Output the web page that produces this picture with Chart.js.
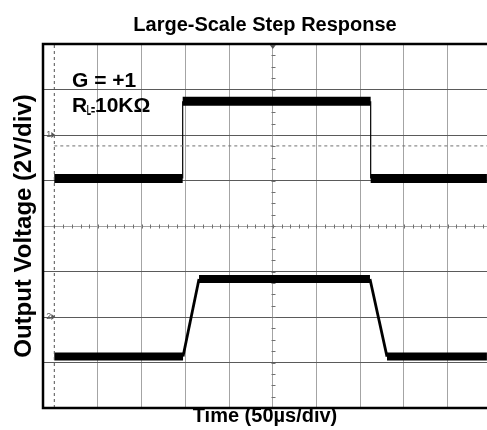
<!DOCTYPE html>
<html><head><meta charset="utf-8">
<script src="https://cdn.jsdelivr.net/npm/chart.js@4/dist/chart.umd.min.js"></script>
<style>html,body{margin:0;padding:0;background:#fff}#wrap{width:487px;height:430px}</style>
</head><body><div id="wrap"><canvas id="c" width="487" height="430"></canvas></div>
<script>
// ---- data (time in µs, screen voltage at 2 V/div, 0 V = screen centre) ----
const xGridTicks = [0, 50, 100, 150, 200, 250, 300, 350, 400, 450];
const yGridTicks = [-8, -6, -4, -2, 0, 2, 4, 6, 8];
const ch1Time  = [0, 146.9, 146.9, 362.0, 362.0, 495];
const ch1Volts = [2.09, 2.09, 5.48, 5.48, 2.09, 2.09];
const ch2Time  = [0, 147.3, 165.6, 361.2, 380.7, 495];
const ch2Volts = [-5.74, -5.74, -2.33, -2.33, -5.74, -5.74];
const cursorTime  = [0, 0];
const cursorVolts = [-8, 8];
const refTime  = [0, 495];
const refVolts = [3.52, 3.52];
const channelLabels = ['1', '2'];
const channelGround = [4, -4];
const triggerTime = 250;
const titleText = 'Large-Scale Step Response';
const xTitle = 'Time (50µs/div)';
const yTitle = 'Output Voltage (2V/div)';
const noteGain = 'G = +1';
const noteLoad = ['R', 'L=', '10KΩ'];

const FONT = "'Liberation Sans', Arial, sans-serif";
const toXY = (xs, ys) => xs.map((t, i) => ({x: t, y: ys[i]}));

const scopeDecor = {
  id: 'scopeDecor',
  beforeDatasetsDraw(chart) {
    const {ctx, scales: {x, y}} = chart;
    const cx = Math.round(x.getPixelForValue(triggerTime)) + 0.5;
    const cy = Math.round(y.getPixelForValue(0)) + 0.5;
    ctx.save();
    ctx.strokeStyle = '#707070'; ctx.lineWidth = 1;
    ctx.beginPath();
    for (let t = 0; t <= 495; t += 10) {
      const px = Math.round(x.getPixelForValue(t)) + 0.5;
      ctx.moveTo(px, cy - 2); ctx.lineTo(px, cy + 2);
    }
    for (let v = -8; v <= 8; v += 0.5) {
      const py = Math.round(y.getPixelForValue(v)) + 0.5;
      ctx.moveTo(cx - 2, py); ctx.lineTo(cx + 2, py);
    }
    ctx.stroke();
    ctx.restore();
  },
  afterDraw(chart) {
    const {ctx, chartArea: a, scales: {x, y}} = chart;
    ctx.save();
    // frame
    ctx.strokeStyle = '#000'; ctx.lineWidth = 2.5;
    ctx.beginPath();
    ctx.moveTo(chart.width + 5, a.top); ctx.lineTo(a.left, a.top);
    ctx.lineTo(a.left, a.bottom); ctx.lineTo(chart.width + 5, a.bottom);
    ctx.stroke();
    // trigger marker
    const cx = x.getPixelForValue(triggerTime);
    ctx.fillStyle = '#555';
    ctx.beginPath();
    ctx.moveTo(cx - 3, a.top + 1); ctx.lineTo(cx + 3, a.top + 1); ctx.lineTo(cx, a.top + 5);
    ctx.closePath(); ctx.fill();
    // channel ground markers
    const x0 = x.getPixelForValue(0);
    ctx.font = '9px ' + FONT; ctx.textBaseline = 'middle'; ctx.textAlign = 'right';
    channelLabels.forEach((lab, i) => {
      const py = y.getPixelForValue(channelGround[i]);
      ctx.fillStyle = '#555';
      ctx.fillText(lab, x0 - 3, py);
      ctx.beginPath();
      ctx.moveTo(x0 - 3, py - 3); ctx.lineTo(x0 + 1, py); ctx.lineTo(x0 - 3, py + 3);
      ctx.closePath(); ctx.fill();
    });
    // annotations
    ctx.fillStyle = '#000'; ctx.textAlign = 'left'; ctx.textBaseline = 'alphabetic';
    ctx.font = 'bold 21px ' + FONT;
    ctx.fillText(noteGain, 72, 87);
    ctx.fillText(noteLoad[0], 72, 112);
    const rW = ctx.measureText(noteLoad[0]).width;
    ctx.save();
    ctx.translate(72 + rW - 0.5, 115);
    ctx.scale(0.5, 1);
    ctx.font = 'bold 14px ' + FONT;
    ctx.fillText(noteLoad[1], 0, 0);
    ctx.restore();
    ctx.fillText(noteLoad[2], 95, 112);
    ctx.restore();
  }
};

const segW = (thick, thin) => ({
  borderWidth: c => (c.p0.parsed.y === c.p1.parsed.y ? thick : thin)
});

new Chart(document.getElementById('c'), {
  type: 'scatter',
  data: {
    datasets: [
      {data: toXY(cursorTime, cursorVolts), showLine: true, borderColor: '#505050', borderWidth: 1,
       borderDash: [3, 3], pointRadius: 0},
      {data: toXY(refTime, refVolts), showLine: true, borderColor: '#707070', borderWidth: 1,
       borderDash: [3, 3], pointRadius: 0},
      {data: toXY(ch1Time, ch1Volts), showLine: true, borderColor: '#000', borderWidth: 9,
       pointRadius: 0, segment: segW(9, 1.2)},
      {data: toXY(ch2Time, ch2Volts), showLine: true, borderColor: '#000', borderWidth: 8,
       pointRadius: 0, segment: segW(8, 2.8)}
    ]
  },
  options: {
    responsive: false, animation: false, events: [],
    layout: {padding: 0},
    plugins: {
      legend: {display: false}, tooltip: {enabled: false},
      title: {display: true, text: titleText, fullSize: false, color: '#000',
              font: {family: FONT, size: 20, weight: 'bold'}, padding: {top: 13.4, bottom: 6.6}}
    },
    scales: {
      x: {
        type: 'linear', min: -12.93, max: 495.1,
        afterBuildTicks: s => { s.ticks = xGridTicks.map(v => ({value: v})); },
        afterFit: s => { s.height = 22; },
        ticks: {display: false},
        grid: {color: c => (c.tick && c.tick.value === 0 ? 'rgba(0,0,0,0)' : '#a4a4a4'),
               lineWidth: 1, drawTicks: false},
        border: {display: false},
        title: {display: true, text: xTitle, color: '#000',
                font: {family: FONT, size: 20, weight: 'bold'}, padding: {top: 0, bottom: 1.6}}
      },
      y: {
        type: 'linear', min: -8, max: 8,
        afterBuildTicks: s => { s.ticks = yGridTicks.map(v => ({value: v})); },
        afterFit: s => { s.width = 43; },
        ticks: {display: false},
        grid: {color: c => {
                 const v = c.tick ? c.tick.value : null;
                 if (v === 8 || v === -8) return 'rgba(0,0,0,0)';
                 return v === 0 ? '#a4a4a4' : '#5a5a5a';
               }, lineWidth: 1, drawTicks: false},
        border: {display: false},
        title: {display: true, text: yTitle, color: '#000',
                font: {family: FONT, size: 24, weight: 'bold'}, padding: {top: 9.6, bottom: 0}}
      }
    }
  },
  plugins: [scopeDecor]
});
</script></body></html>
